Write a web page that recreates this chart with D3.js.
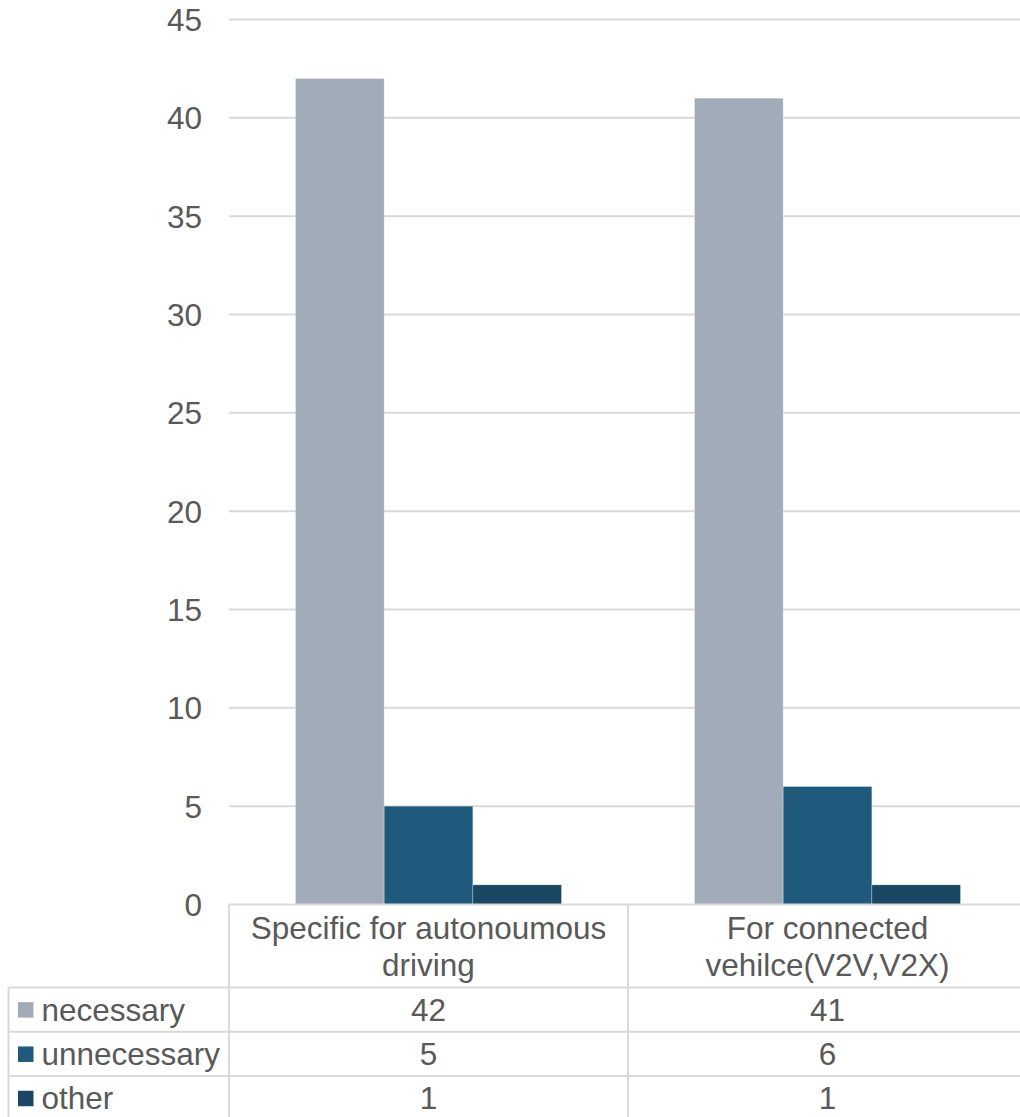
<!DOCTYPE html>
<html>
<head>
<meta charset="utf-8">
<script src="https://cdn.jsdelivr.net/npm/d3@7"></script>
<style>
  html, body { margin: 0; padding: 0; background: #fff; overflow: hidden; }
  svg { display: block; font-family: "Liberation Sans", Arial, sans-serif; }
</style>
</head>
<body>
<script>
// Survey answers per category
const categories = [
  ["Specific for autonoumous", "driving"],
  ["For connected", "vehilce(V2V,V2X)"]
];
const categoryKeys = ["autonomous", "connected"];
const seriesNames = ["necessary", "unnecessary", "other"];
const necessary = [42, 41];
const unnecessary = [5, 6];
const other = [1, 1];
const seriesValues = [necessary, unnecessary, other];
const seriesColors = ["#a2acb8", "#1f5a7d", "#1a4763"];
const yTicks = [0, 5, 10, 15, 20, 25, 30, 35, 40, 45];

const W = 1020, H = 1117;
const textColor = "#595959";
const lineColor = "#d9d9d9";
const fontSize = 31.5;

const svg = d3.select("body").append("svg").attr("width", W).attr("height", H);

const plotLeft = 229, plotRight = 1027, plotTop = 19.5, plotBottom = 904.5;

const x0 = d3.scaleBand().domain(categoryKeys).range([plotLeft, plotRight]);
const x1 = d3.scaleBand().domain(seriesNames).range([0, x0.bandwidth()]).paddingInner(0).paddingOuter(0.75);
const y = d3.scaleLinear().domain([0, 45]).range([plotBottom, plotTop]);

// Gridlines
svg.append("g").selectAll("line").data(yTicks.filter(t => t > 0)).join("line")
  .attr("x1", plotLeft).attr("x2", plotRight)
  .attr("y1", d => y(d)).attr("y2", d => y(d))
  .attr("stroke", lineColor).attr("stroke-width", 2);

// Y axis labels
const yAxis = d3.axisLeft(y).tickValues(yTicks).tickSize(0).tickPadding(0);
const gy = svg.append("g").attr("transform", `translate(202,0)`).call(yAxis);
gy.select(".domain").remove();
gy.selectAll("text").attr("fill", textColor).attr("font-size", fontSize)
  .attr("font-family", "Liberation Sans, Arial, sans-serif").attr("dy", "0.35em");

// Bars
const groups = svg.append("g").selectAll("g").data(categoryKeys).join("g")
  .attr("transform", d => `translate(${x0(d)},0)`);
groups.selectAll("rect")
  .data((d, ci) => seriesNames.map((s, si) => ({ s, si, v: seriesValues[si][ci] })))
  .join("rect")
  .attr("x", d => x1(d.s))
  .attr("width", x1.bandwidth())
  .attr("y", d => y(d.v))
  .attr("height", d => y(0) - y(d.v))
  .attr("fill", d => seriesColors[d.si])
  .attr("stroke", "#ffffff").attr("stroke-opacity", 0.35).attr("stroke-width", 0.8);

// Data table
const rowTops = [plotBottom, 987.5, 1031.8, 1076.1, 1120.4];
const table = svg.append("g");
// horizontal lines
table.selectAll("line.h").data(rowTops).join("line").attr("class", "h")
  .attr("x1", (d, i) => i === 0 ? plotLeft : 8.5).attr("x2", plotRight)
  .attr("y1", d => d).attr("y2", d => d)
  .attr("stroke", lineColor).attr("stroke-width", 2);
// vertical lines
const vLines = [{ x: 8.5, top: rowTops[1] }, { x: plotLeft, top: plotBottom }];
categoryKeys.forEach(k => vLines.push({ x: x0(k) + x0.bandwidth(), top: plotBottom }));
table.selectAll("line.v").data(vLines).join("line").attr("class", "v")
  .attr("x1", d => d.x).attr("x2", d => d.x)
  .attr("y1", d => d.top).attr("y2", H + 5)
  .attr("stroke", lineColor).attr("stroke-width", 2);

// category header text
const header = table.selectAll("text.cat").data(categories).join("text").attr("class", "cat")
  .attr("text-anchor", "middle").attr("fill", textColor).attr("font-size", fontSize);
header.each(function (lines, i) {
  const cx = x0(categoryKeys[i]) + x0.bandwidth() / 2;
  d3.select(this).selectAll("tspan").data(lines).join("tspan")
    .attr("x", cx).attr("y", (d, j) => 938.5 + j * 37.5).text(d => d);
});

// series rows: legend key, name, values
seriesNames.forEach((name, si) => {
  const top = rowTops[si + 1], bottom = rowTops[si + 2];
  const mid = (top + bottom) / 2;
  table.append("rect").attr("x", 18).attr("y", mid - 7.5).attr("width", 15.5).attr("height", 15.5)
    .attr("fill", seriesColors[si]);
  table.append("text").attr("x", 41.5).attr("y", mid).attr("dy", "0.35em")
    .attr("fill", textColor).attr("font-size", fontSize).text(name);
  categoryKeys.forEach((k, ci) => {
    table.append("text").attr("x", x0(k) + x0.bandwidth() / 2).attr("y", mid).attr("dy", "0.35em")
      .attr("text-anchor", "middle").attr("fill", textColor).attr("font-size", fontSize)
      .text(seriesValues[si][ci]);
  });
});
</script>
</body>
</html>
